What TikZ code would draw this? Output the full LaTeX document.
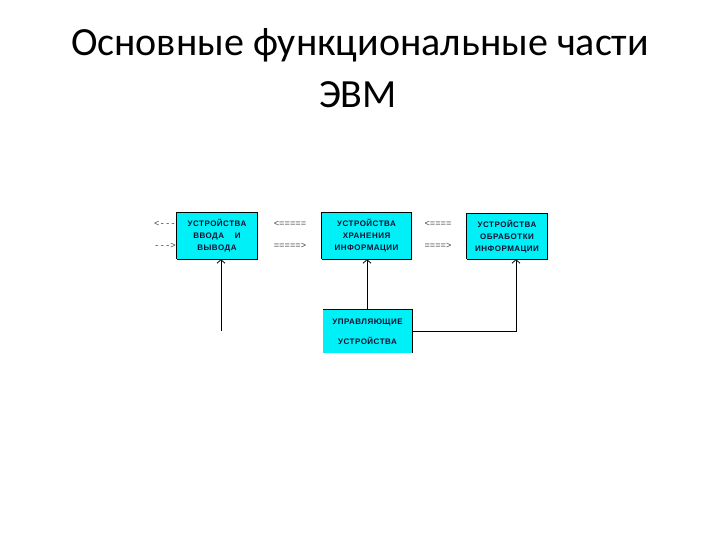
\documentclass[tikz,border=0pt]{standalone}
\usepackage{fontspec}
\setmainfont{Carlito}
\newfontfamily\boxfont[LetterSpace=6]{Liberation Sans}
\newfontfamily\monofont{Liberation Mono}
\usetikzlibrary{arrows.meta}
\definecolor{boxcyan}{HTML}{00F0F8}
\definecolor{boxtext}{HTML}{101030}
\tikzset{
  unitbox/.style={fill=boxcyan, draw=none, inner sep=0pt, align=center,
    font=\boxfont\bfseries\fontsize{8}{12}\selectfont, text=boxtext},
  flowlbl/.style={font=\monofont\fontsize{9}{10}\selectfont, inner sep=0pt, text=black!75},
  titletext/.style={font=\fontsize{40}{48}\selectfont, anchor=base, inner sep=0pt},
  link/.style={line width=0.7pt, -{Straight Barb[length=3.5pt,width=8pt,line width=0.8pt]}},
  edge/.style={line width=0.9pt, black}
}
\begin{document}
\begin{tikzpicture}[x=1pt,y=-1pt]
\useasboundingbox (0,0) rectangle (720,540);
% title
\node[titletext] (t1) at (360,56) {Основные функциональные части};
\node[titletext] (t2) at (358,108) {ЭВМ};
% boxes
\node[unitbox, minimum width=80pt, minimum height=46pt] (io) at (217,236)
  {УСТРОЙСТВА\\ВВОДА\quad\ И\\ВЫВОДА};
\node[unitbox, minimum width=89pt, minimum height=46pt] (mem) at (366.5,236)
  {УСТРОЙСТВА\\ХРАНЕНИЯ\\ИНФОРМАЦИИ};
\node[unitbox, minimum width=80pt, minimum height=45pt] (cpu) at (507,236.5)
  {УСТРОЙСТВА\\ОБРАБОТКИ\\ИНФОРМАЦИИ};
\node[unitbox, minimum width=89pt, minimum height=43pt,
  font=\boxfont\bfseries\fontsize{8}{20}\selectfont] (ctl) at (367.5,331.5)
  {УПРАВЛЯЮЩИЕ\\УСТРОЙСТВА};
% box edges
\draw[edge] (io.south west) -- (io.north west) -- (io.north east) -- (io.south east) -- (io.south west);
\draw[edge] (mem.south west) -- (mem.north west) -- (mem.north east) -- (mem.south east) -- (mem.south west);
\draw[edge] (cpu.south west) -- (cpu.north west) -- (cpu.north east) -- (cpu.south east) -- (cpu.south west);
\draw[edge] (ctl.north west) -- (ctl.north east) -- (ctl.south east);
% flow labels
\node[flowlbl] (l1a) at (165,224) {<{}-{}-{}-};
\node[flowlbl] (l1b) at (165,246) {-{}-{}->};
\node[flowlbl] (l2a) at (290,224) {<=====};
\node[flowlbl] (l2b) at (290,246) {=====>};
\node[flowlbl] (l3a) at (438,224) {<====};
\node[flowlbl] (l3b) at (438,246) {====>};
% connectors
\coordinate (free) at (221,331);
\draw[link] (free) -- (io.south -| free);
\draw[link] (ctl.north -| 367,0) -- (mem.south -| 367,0);
\coordinate (bend) at (516,331);
\draw[link] (ctl.east |- bend) -- (bend) -- (cpu.south -| bend);
\end{tikzpicture}
\end{document}
